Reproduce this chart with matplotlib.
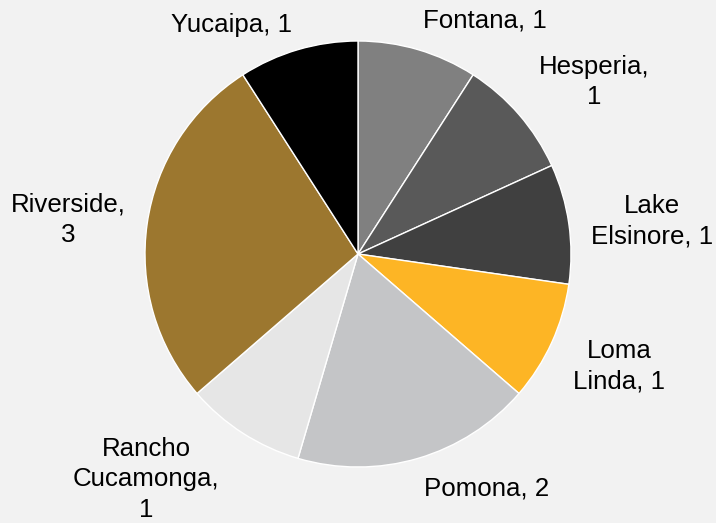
import matplotlib
matplotlib.use("Agg")
from matplotlib import pyplot as plt

cities = ['Fontana', 'Hesperia', 'Lake Elsinore', 'Loma Linda', 'Pomona',
          'Rancho Cucamonga', 'Riverside', 'Yucaipa']
counts = [1, 1, 1, 1, 2, 1, 3, 1]
label_text = ['Fontana, 1', 'Hesperia,\n1', 'Lake\nElsinore, 1', 'Loma\nLinda, 1',
              'Pomona, 2', 'Rancho\nCucamonga,\n1', 'Riverside,\n3', 'Yucaipa, 1']
colors = ['#808080', '#595959', '#404040', '#FDB525', '#C4C5C7',
          '#E6E6E6', '#9C772F', '#000000']

# label positions in units of the pie radius (excel "best fit" placement)
label_pos = [(0.596, 1.094), (1.108, 0.808), (1.380, 0.155), (1.225, -0.526),
             (0.603, -1.103), (-0.995, -1.058), (-1.359, 0.160), (-0.596, 1.073)]

plt.rcParams['font.family'] = ['Liberation Sans', 'DejaVu Sans']

fig = plt.figure(figsize=(7.16, 5.23), dpi=100)
fig.patch.set_facecolor('#F2F2F2')
ax = fig.add_axes([0, 0, 1, 1])
ax.set_facecolor('#F2F2F2')

wedges, _ = ax.pie(counts, colors=colors, startangle=90, counterclock=False,
                   radius=1.0, wedgeprops=dict(edgecolor='white', linewidth=1))

for txt, (x, y) in zip(label_text, label_pos):
    ax.text(x, y, txt, ha='center', va='center', multialignment='center',
            fontsize=18.6, color='black', linespacing=1.33)

r = 213.0
ax.set_xlim(-358 / r, (716 - 358) / r)
ax.set_ylim(-269 / r, 254 / r)
ax.set_aspect('auto')
ax.axis('off')

fig.savefig('out.png', dpi=100, facecolor=fig.get_facecolor())
